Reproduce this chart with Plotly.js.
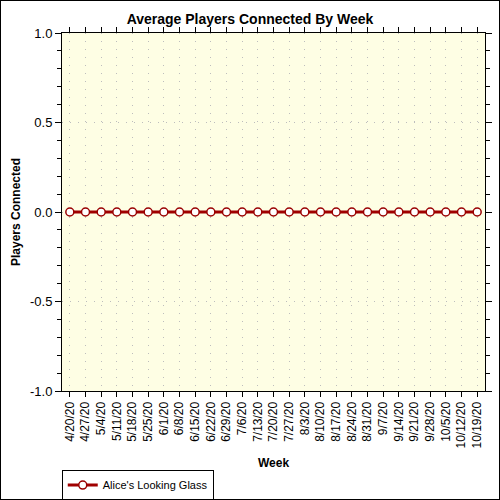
<!DOCTYPE html>
<html>
<head>
<meta charset="utf-8">
<script src="https://cdn.plot.ly/plotly-3.0.1.min.js"></script>
<style>
    body { margin: 0; }
    #chart { width: 498px; height: 498px; border: 1px solid #000; }
</style>
</head>
<body>
<div id="chart"></div>
<script>
// weekly labels and the series
const weeks = ['4/20/20', '4/27/20', '5/4/20', '5/11/20', '5/18/20', '5/25/20',
    '6/1/20', '6/8/20', '6/15/20', '6/22/20', '6/29/20', '7/6/20', '7/13/20',
    '7/20/20', '7/27/20', '8/3/20', '8/10/20', '8/17/20', '8/24/20', '8/31/20',
    '9/7/20', '9/14/20', '9/21/20', '9/28/20', '10/5/20', '10/12/20', '10/19/20'];
const alicePlayers = [0, 0, 0, 0, 0, 0, 0, 0, 0, 0, 0, 0, 0, 0, 0, 0, 0, 0, 0,
    0, 0, 0, 0, 0, 0, 0, 0];
const seriesName = "Alice's Looking Glass";
const yTicks = [-1, -0.5, 0, 0.5, 1];
const yTickText = ['-1.0', '-0.5', '0.0', '0.5', '1.0'];

const font = 'Arial, "Liberation Sans", sans-serif';

const data = [{
    name: seriesName,
    x: weeks,
    y: alicePlayers,
    type: 'scatter',
    mode: 'lines+markers',
    line: { color: '#a00000', width: 3 },
    marker: {
        symbol: 'circle',
        size: 8,
        color: '#ffffff',
        line: { color: '#990000', width: 1.5 }
    },
    hoverinfo: 'x+y'
}];

const layout = {
    width: 498,
    height: 498,
    margin: { l: 61, r: 14, t: 32, b: 108 },
    paper_bgcolor: '#ffffff',
    plot_bgcolor: '#fefee4',
    font: { family: font, size: 12, color: '#000' },
    title: {
        text: '<b>Average Players Connected By Week</b>',
        font: { family: font, size: 14, color: '#000' },
        x: 0.5,
        y: 0.973,
        yanchor: 'top'
    },
    showlegend: true,
    legend: {
        xref: 'container',
        yref: 'container',
        x: 0.122,
        xanchor: 'left',
        y: 0.028,
        yanchor: 'middle',
        orientation: 'h',
        bgcolor: '#ffffff',
        bordercolor: '#000',
        borderwidth: 1,
        font: { family: font, size: 11, color: '#000' },
        itemwidth: 30,
        tracegroupgap: 0
    },
    xaxis: {
        type: 'category',
        automargin: false,
        range: [-0.5, weeks.length - 0.5],
        tickangle: -90,
        ticks: 'outside',
        ticklen: 5,
        tickcolor: '#000',
        showline: true,
        linecolor: '#000',
        linewidth: 1,
        mirror: 'allticks',
        showgrid: true,
        gridcolor: '#bdbdbd',
        griddash: '1px,7px',
        zeroline: false,
        tickfont: { family: font, size: 12, color: '#000' },
        title: {
            text: '<b>Week</b>',
            font: { family: font, size: 12, color: '#000' },
            standoff: 12
        }
    },
    yaxis: {
        automargin: false,
        range: [-1, 1],
        tickmode: 'array',
        tickvals: yTicks,
        ticktext: yTickText,
        ticks: 'outside',
        ticklen: 6,
        tickcolor: '#000',
        showline: true,
        linecolor: '#000',
        linewidth: 1,
        mirror: 'allticks',
        showgrid: true,
        gridcolor: '#bdbdbd',
        griddash: '1px,7px',
        zeroline: false,
        minor: { dtick: 0.1, ticks: 'outside', ticklen: 4, tickcolor: '#000', showgrid: false },
        tickfont: { family: font, size: 13, color: '#000' },
        title: {
            text: '<b>Players Connected</b>',
            font: { family: font, size: 12, color: '#000' },
            standoff: 6
        }
    }
};

Plotly.newPlot('chart', data, layout, { displayModeBar: false, staticPlot: true });
</script>
</body>
</html>
